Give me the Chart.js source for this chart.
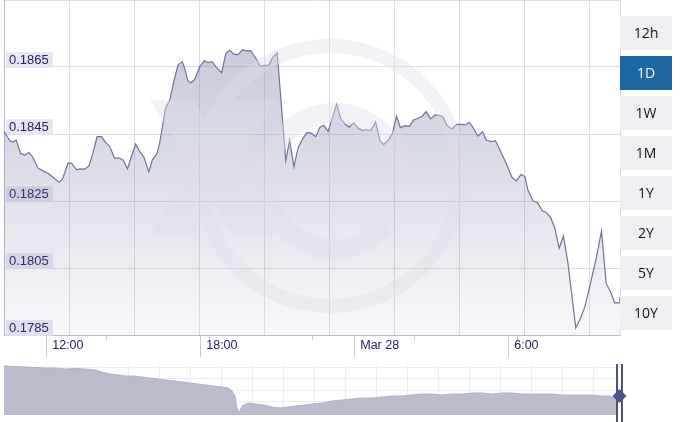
<!DOCTYPE html>
<html><head><meta charset="utf-8">
<script src="https://cdn.jsdelivr.net/npm/chart.js@4.4.1/dist/chart.umd.min.js"></script>
<style>
html,body{margin:0;padding:0;background:#fff;width:687px;height:422px;overflow:hidden}
#wrap{position:relative;width:687px;height:422px}
#wm,#main,#nav,#handle{position:absolute;left:0}
#wm{top:0;pointer-events:none}
#main{top:0}
#nav{top:360px}
.btn{position:absolute;left:620px;width:52px;height:34px;background:#efeff3;color:#111;font:14px "Open Sans",sans-serif;text-align:center;line-height:34px}
.btn.on{background:#1f67a3;color:#f4f6fb}
</style></head>
<body><div id="wrap">
<canvas id="main" width="687" height="362"></canvas>
<svg id="wm" width="620" height="334">
  <g opacity="0.42" fill="rgb(222,222,233)">
    <path fill-rule="evenodd" d="M330 39 a137 137 0 1 0 0.01 0 Z M330 53 a123 123 0 1 1 -0.01 0 Z"/>
    <path d="M150 100 L193 100 L276 235 L233 235 Z M233 100 L276 100 L193 235 L150 235 Z"/>
    <path fill="none" stroke="rgb(222,222,233)" stroke-width="20" d="M268 180 H402 A68 68 0 1 0 385 226"/>
  </g>
</svg>
<canvas id="nav" width="687" height="62"></canvas>
<svg id="handle" style="top:360px" width="687" height="62">
  <rect x="616" y="4" width="2" height="58" fill="#4e5584"/>
  <rect x="621" y="4" width="2" height="58" fill="#4e5584"/>
  <path d="M619.5 29 L626.5 36 L619.5 43 L612.5 36 Z" fill="#4e5584"/>
</svg>
<div id="btns"></div>
</div>
<script>
// ---- data (time = minutes after Mar 27 00:00) ----
const times = [621,635,642,650,660,670,680,689,701,712,724,736,750,758,771,779,791,798,810,820,829,839,849,859,868,880,890,900,910,919,929,939,948,960,968,979,985,993,999,1009,1018,1028,1038,1044,1051,1059,1067,1079,1090,1098,1108,1118,1130,1140,1149,1158,1168,1179,1188,1198,1210,1220,1231,1240,1249,1260,1280,1289,1299,1309,1320,1330,1340,1350,1360,1369,1379,1399,1408,1419,1428,1439,1449,1460,1468,1479,1490,1500,1509,1520,1529,1539,1548,1559,1569,1579,1589,1599,1608,1619,1629,1639,1648,1657,1668,1680,1691,1700,1709,1720,1729,1740,1749,1761,1770,1778,1796,1809,1819,1830,1839,1846,1858,1869,1880,1889,1899,1909,1919,1929,1939,1958,1969,1979,1990,2006,2018,2029,2039,2049,2059,2061];
const rates = [0.18459,0.18430,0.18426,0.18432,0.18392,0.18387,0.18395,0.18380,0.18348,0.18340,0.18333,0.18321,0.18306,0.18315,0.18363,0.18363,0.18343,0.18346,0.18345,0.18355,0.18392,0.18442,0.18442,0.18424,0.18414,0.18377,0.18379,0.18372,0.18346,0.18382,0.18420,0.18397,0.18382,0.18337,0.18372,0.18392,0.18422,0.18482,0.18527,0.18552,0.18606,0.18656,0.18666,0.18646,0.18609,0.18603,0.18613,0.18651,0.18669,0.18663,0.18666,0.18649,0.18633,0.18691,0.18700,0.18689,0.18686,0.18702,0.18698,0.18699,0.18676,0.18653,0.18655,0.18655,0.18678,0.18692,0.18370,0.18432,0.18352,0.18410,0.18437,0.18455,0.18452,0.18442,0.18470,0.18476,0.18458,0.18539,0.18497,0.18479,0.18470,0.18483,0.18468,0.18460,0.18463,0.18461,0.18486,0.18430,0.18418,0.18432,0.18451,0.18503,0.18469,0.18475,0.18473,0.18492,0.18497,0.18503,0.18517,0.18495,0.18507,0.18506,0.18500,0.18475,0.18465,0.18479,0.18479,0.18477,0.18485,0.18465,0.18444,0.18457,0.18431,0.18427,0.18430,0.18410,0.18360,0.18320,0.18310,0.18329,0.18323,0.18283,0.18251,0.18244,0.18220,0.18216,0.18201,0.18169,0.18109,0.18145,0.18071,0.17871,0.17900,0.17933,0.17992,0.18080,0.18161,0.18004,0.17979,0.17946,0.17946,0.17963];
const xTickValues = [720,1080,1440,1800];
const xTickLabels = ['12:00','18:00','Mar 28','6:00'];
const yTickValues = [0.1785,0.1805,0.1825,0.1845,0.1865,0.1885];
const yLabelValues = [0.1785,0.1805,0.1825,0.1845,0.1865];
// navigator (longer history): position along the navigator track (0..616) and value
const navPos = [0,11,21,31,41,51,61,71,81,91,98,106,114,122,130,138,146,154,162,170,178,186,194,202,210,218,224,228,231,233,235,238,244,252,260,268,276,284,292,300,308,318,328,338,348,358,368,378,388,398,408,418,428,438,448,458,468,478,488,498,508,518,528,538,548,558,568,578,588,598,606,610,614];
const navValues = [0.1896,0.1894,0.1892,0.1890,0.1888,0.1888,0.1884,0.1886,0.1884,0.1880,0.1872,0.1864,0.1860,0.1856,0.1856,0.1852,0.1848,0.1844,0.1840,0.1836,0.1832,0.1828,0.1824,0.1820,0.1816,0.1812,0.1808,0.1796,0.1776,0.1728,0.1708,0.1736,0.1748,0.1744,0.1740,0.1732,0.1728,0.1732,0.1736,0.1740,0.1744,0.1748,0.1756,0.1760,0.1764,0.1768,0.1768,0.1772,0.1776,0.1776,0.1780,0.1784,0.1784,0.1780,0.1784,0.1784,0.1788,0.1788,0.1784,0.1788,0.1788,0.1784,0.1784,0.1784,0.1784,0.1780,0.1780,0.1780,0.1780,0.1776,0.1776,0.1768,0.1772];
const ranges = ['12h','1D','1W','1M','1Y','2Y','5Y','10Y'];
const activeRange = '1D';

const FONT = '"Liberation Sans", Arial, sans-serif';
const zeroPad = s => { s.paddingLeft = 0; s.paddingRight = 0; s.paddingTop = 0; s.paddingBottom = 0; };

new Chart(document.getElementById('main'), {
  type: 'line',
  data: { datasets: [{
    xAxisID: 'x', yAxisID: 'y',
    data: times.map((t, i) => ({ x: t, y: rates[i] })),
    borderColor: '#6d7399', borderWidth: 1.2, pointRadius: 0, tension: 0, fill: 'start',
    backgroundColor: (c) => {
      const ca = c.chart.chartArea; if (!ca) return 'rgba(110,116,160,0.2)';
      const g = c.chart.ctx.createLinearGradient(0, ca.top, 0, ca.bottom);
      g.addColorStop(0, 'rgba(105,110,158,0.42)');
      g.addColorStop(1, 'rgba(105,110,158,0.05)');
      return g;
    }
  }]},
  options: {
    responsive: false, animation: false, devicePixelRatio: 1,
    layout: { padding: { left: 4, right: 67, top: 0, bottom: 0 } },
    plugins: { legend: { display: false }, tooltip: { enabled: false } },
    scales: {
      x: { type: 'linear', position: 'bottom', weight: 1, min: 621.3, max: 2061.3,
        afterBuildTicks: s => { s.ticks = xTickValues.map(v => ({ value: v })); },
        afterFit: s => { s.height = 27; zeroPad(s); },
        grid: { drawOnChartArea: false, drawTicks: true, tickLength: 22, color: '#c3c7e0' },
        border: { display: true, color: '#b6badb', width: 1 },
        ticks: { autoSkip: false, maxRotation: 0, align: 'start', labelOffset: 6, padding: -19,
          color: '#22235e', font: { family: FONT, size: 12.5 },
          callback: (v) => { const i = xTickValues.indexOf(v); return i >= 0 ? xTickLabels[i] : ''; } } },
      y: { type: 'linear', position: 'left', min: 0.1785, max: 0.1885,
        afterBuildTicks: s => { s.ticks = yTickValues.map(v => ({ value: v })); },
        afterFit: s => { s.width = 0; zeroPad(s); },
        grid: { color: '#dedee2', drawTicks: false },
        border: { display: true, color: '#b6badb', width: 1 },
        ticks: { mirror: true, padding: 5, labelOffset: -7, color: '#22235e', font: { family: FONT, size: 13 },
          showLabelBackdrop: true,
          backdropColor: (c) => (c.tick && yLabelValues.some(v => Math.abs(v - c.tick.value) < 1e-7)) ? '#e6e6f2' : 'rgba(0,0,0,0)',
          backdropPadding: { left: 3, right: 4, top: 0, bottom: 0 },
          callback: (v) => yLabelValues.some(l => Math.abs(l - v) < 1e-7) ? v.toFixed(4) : '' } },
      xg: { type: 'linear', position: 'bottom', weight: 0, min: 0, max: 616 / 65,
        afterBuildTicks: s => { s.ticks = [1,2,3,4,5,6,7,8,9].map(v => ({ value: v })); },
        afterFit: s => { s.height = 0; zeroPad(s); },
        grid: { drawOnChartArea: true, drawTicks: false, color: '#dedee2' },
        border: { display: false }, ticks: { display: false } },
      xm: { type: 'linear', position: 'bottom', weight: 0, min: 0, max: 6,
        afterBuildTicks: s => { s.ticks = [1,2,3,4,5].map(v => ({ value: v })); },
        afterFit: s => { s.height = 0; zeroPad(s); },
        grid: { drawOnChartArea: false, drawTicks: true, tickLength: 5, color: '#c3c7e0' },
        border: { display: false }, ticks: { display: false } },
      yr: { type: 'linear', position: 'right', min: 0.1785, max: 0.1885,
        afterFit: s => { s.width = 0; zeroPad(s); },
        grid: { display: false }, border: { display: true, color: '#dcdce0' }, ticks: { display: false } }
    }
  }
});

new Chart(document.getElementById('nav'), {
  type: 'line',
  data: { datasets: [{
    xAxisID: 'x', yAxisID: 'y',
    data: navPos.map((p, i) => ({ x: p, y: navValues[i] })),
    borderColor: '#aeb2c6', borderWidth: 1, pointRadius: 0, tension: 0,
    fill: 'start', backgroundColor: '#b9bccd' }]},
  options: {
    responsive: false, animation: false, devicePixelRatio: 1,
    layout: { padding: { left: 4, right: 67, top: 5, bottom: 7 } },
    plugins: { legend: { display: false }, tooltip: { enabled: false } },
    scales: {
      x: { type: 'linear', min: 0, max: 616, display: true,
        afterBuildTicks: s => { const t = []; for (let k = 0; k * 31 <= 616; k++) t.push({ value: k * 31 }); s.ticks = t; },
        afterFit: s => { s.height = 0; zeroPad(s); },
        grid: { color: '#ececef', drawTicks: false }, border: { display: false }, ticks: { display: false } },
      y: { type: 'linear', min: 0.170, max: 0.190, display: true,
        afterBuildTicks: s => { s.ticks = [0.1755, 0.1800, 0.1845, 0.1890].map(v => ({ value: v })); },
        afterFit: s => { s.width = 0; zeroPad(s); },
        grid: { color: '#ececef', drawTicks: false }, border: { display: false }, ticks: { display: false } }
    }
  }
});

const btns = document.getElementById('btns');
ranges.forEach((r, i) => {
  const d = document.createElement('div');
  d.className = 'btn' + (r === activeRange ? ' on' : '');
  d.style.top = (16 + 40 * i) + 'px';
  d.textContent = r;
  btns.appendChild(d);
});
</script>
</body></html>
